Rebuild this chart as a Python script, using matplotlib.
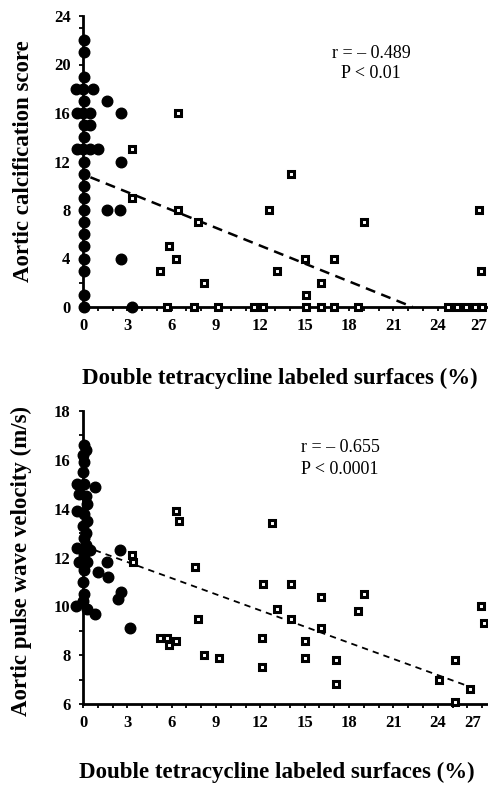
import matplotlib
matplotlib.use("Agg")
import matplotlib.pyplot as plt
from matplotlib.ticker import MultipleLocator
from matplotlib.transforms import ScaledTranslation

plt.rcParams["font.family"] = ["Liberation Serif", "DejaVu Serif"]

# ---- top panel: aortic calcification score ----
calc_circ_x = [0.1, 0.1, 0.1, -0.5, 0.0, 0.7, 0.1, 1.6, -0.4, 0.0, 0.5, 2.6,
               0.1, 0.5, 0.1, -0.4, 0.0, 0.5, 1.0, 0.1, 2.6, 0.1, 0.1, 0.1,
               0.1, 1.6, 2.5, 0.1, 0.1, 0.1, 0.1, 2.6, 0.1, 0.1, 0.1, 3.3]
calc_circ_y = [22, 21, 19, 18, 18, 18, 17, 17, 16, 16, 16, 16,
               15, 15, 14, 13, 13, 13, 13, 12, 12, 11, 10, 9,
               8, 8, 8, 7, 6, 5, 4, 4, 3, 1, 0, 0]

calc_sq_x = [6.4, 3.3, 3.3, 6.4, 7.8, 5.8, 6.3, 5.2, 8.2, 12.6, 14.1, 19.0,
             26.8, 26.9, 15.0, 17.0, 13.1, 16.1, 15.1,
             5.7, 7.5, 9.1, 11.6, 12.2, 15.1, 16.1, 17.0, 18.6,
             24.7, 25.3, 25.9, 26.5, 27.0]
calc_sq_y = [16, 13, 9, 8, 7, 5, 4, 3, 2, 8, 11, 7,
             8, 3, 4, 4, 3, 2, 1,
             0, 0, 0, 0, 0, 0, 0, 0, 0,
             0, 0, 0, 0, 0]
calc_fit_x = [0.5, 22.3]
calc_fit_y = [10.7, 0.0]

# ---- bottom panel: aortic pulse wave velocity ----
pwv_circ_x = [0.1, 0.2, 0.0, 0.1, 0.0, -0.4, 0.1, 0.8, -0.3, 0.2, 0.3, -0.4,
              0.1, 0.3, 0.0, 0.2, 0.1, -0.4, 0.2, 0.5, 0.1, -0.3, 0.3, 0.1,
              0.0, 0.1, 0.0, -0.5, 0.3, 0.8,
              2.5, 1.0, 1.6, 1.7, 2.6, 2.4, 3.2]
pwv_circ_y = [16.6, 16.4, 16.2, 15.9, 15.5, 15.0, 15.0, 14.9, 14.6, 14.5, 14.2, 13.9,
              13.8, 13.5, 13.3, 13.0, 12.8, 12.4, 12.5, 12.3, 12.1, 11.8, 11.8, 11.5,
              11.0, 10.5, 10.2, 10.0, 9.9, 9.7,
              12.3, 11.4, 11.8, 11.2, 10.6, 10.3, 9.1]

pwv_sq_x = [6.3, 6.5, 3.3, 3.4, 7.6, 7.8, 5.2, 5.7, 6.3, 5.8, 8.2, 9.2,
            12.8, 12.2, 14.1, 16.1, 19.0, 18.6, 13.1, 14.1, 16.1, 12.1,
            15.0, 15.0, 17.1, 12.1, 17.1, 24.1, 25.2, 26.2, 25.2, 26.9, 27.1]
pwv_sq_y = [13.9, 13.5, 12.1, 11.8, 11.6, 9.5, 8.7, 8.7, 8.6, 8.4, 8.0, 7.9,
            13.4, 10.9, 10.9, 10.4, 10.5, 9.8, 9.9, 9.5, 9.1, 8.7,
            8.6, 7.9, 7.8, 7.5, 6.8, 7.0, 7.8, 6.6, 6.1, 10.0, 9.3]
pwv_fit_x = [0.8, 26.2]
pwv_fit_y = [12.3, 6.7]

XLABEL = "Double tetracycline labeled surfaces (%)"

W, H = 488, 785
fig = plt.figure(figsize=(W / 100, H / 100), dpi=100)


def px_box(left, top, right, bottom):
    return [left / W, 1 - bottom / H, (right - left) / W, (bottom - top) / H]


def style_axis(ax, ymaj, last_shift):
    for s in ("top", "right"):
        ax.spines[s].set_visible(False)
    for s in ("left", "bottom"):
        ax.spines[s].set_linewidth(2.0)
    ax.xaxis.set_major_locator(MultipleLocator(3))
    ax.xaxis.set_minor_locator(MultipleLocator(1))
    ax.yaxis.set_major_locator(MultipleLocator(ymaj))
    ax.yaxis.set_minor_locator(MultipleLocator(1))
    ax.tick_params(which="both", direction="out", length=3, width=1.3)
    ax.tick_params(axis="x", which="major", pad=5, labelsize=12)
    ax.tick_params(axis="y", which="major", pad=6, labelsize=12)
    for lab in ax.get_xticklabels() + ax.get_yticklabels():
        lab.set_fontweight("bold")
    # "27" sits on the right edge, nudge it in a little
    for lab in ax.get_xticklabels():
        if lab.get_position()[0] == 27:
            lab.set_transform(lab.get_transform() +
                              ScaledTranslation(-last_shift / 100, 0,
                                                fig.dpi_scale_trans))


circ_kw = dict(ls="none", marker="o", ms=7.6, mfc="black", mec="black",
               clip_on=False, zorder=3)
sq_kw = dict(ls="none", marker="s", ms=5.0, mfc="white", mec="black",
             mew=2.2, clip_on=False, zorder=4)

# top
ax1 = fig.add_axes(px_box(83, 16, 488, 307))
ax1.plot(calc_fit_x, calc_fit_y, color="black", lw=1.8, dashes=(4, 2.6),
         zorder=2)
ax1.plot(calc_circ_x, calc_circ_y, **circ_kw)
ax1.plot(calc_sq_x, calc_sq_y, **sq_kw)
ax1.set_xlim(0, 27.4)
ax1.set_ylim(0, 24)
style_axis(ax1, 4, 3)

# bottom
ax2 = fig.add_axes(px_box(83, 411, 488, 704))
ax2.plot(pwv_fit_x, pwv_fit_y, color="black", lw=1.3, dashes=(3.5, 2.8),
         zorder=2)
ax2.plot(pwv_circ_x, pwv_circ_y, **circ_kw)
ax2.plot(pwv_sq_x, pwv_sq_y, **sq_kw)
ax2.set_xlim(0, 27.4)
ax2.set_ylim(6, 18)
style_axis(ax2, 2, 9)

# axis titles (placed in pixels)
lab_kw = dict(fontsize=16.5, fontweight="bold", ha="center", va="center")
fig.text(24 / W, 1 - 161 / H, "Aortic calcification score", rotation=90, **lab_kw)
fig.text(21 / W, 1 - 561 / H, "Aortic pulse wave velocity (m/s)", rotation=90,
         **lab_kw)
fig.text(280 / W, 1 - 378 / H, XLABEL, **lab_kw)
fig.text(277 / W, 1 - 772 / H, XLABEL, **lab_kw)

# stats
st_kw = dict(fontsize=13, ha="center", va="center")
fig.text(371 / W, 1 - 53 / H, "r = \u2013 0.489", **st_kw)
fig.text(371 / W, 1 - 74 / H, "P < 0.01", **st_kw)
fig.text(340 / W, 1 - 448 / H, "r = \u2013 0.655", **st_kw)
fig.text(340 / W, 1 - 470 / H, "P < 0.0001", **st_kw)

fig.savefig("out.png", dpi=100)
